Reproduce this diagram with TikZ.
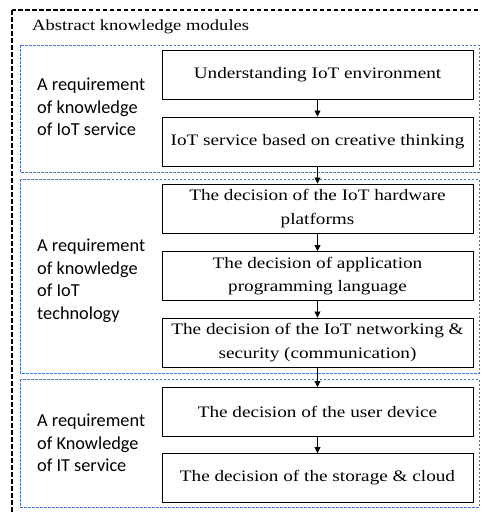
\documentclass[tikz,border=0pt]{standalone}
\usepackage{fontspec}
\setmainfont{Liberation Serif}[FakeStretch=1.2]
\newfontfamily\lblfont{Carlito}
\usepackage{xcolor}
\usetikzlibrary{arrows.meta}
\definecolor{grpblue}{RGB}{68,114,196}

\tikzset{
	modbox/.style={draw,line width=0.9pt,minimum width=311pt,minimum height=49pt,
		align=center,font=\fontsize{16}{23.5}\selectfont,inner sep=2pt},
	grpbox/.style={draw=grpblue,line width=0.6pt,dash pattern=on 2.5pt off 1.5pt},
	grplbl/.style={anchor=west,align=left,font=\lblfont\fontsize{18.3}{22.5}\selectfont,inner sep=0pt},
	flow/.style={-{Triangle[length=6pt,width=6pt]},line width=0.8pt}
}

\begin{document}
\begin{tikzpicture}[x=1pt,y=-1pt]
	\clip (0,0) rectangle (480,512);
	\draw[line width=1.4pt,dash pattern=on 4.5pt off 2.5pt] (12,10) rectangle (495,530);
	\node[anchor=west,inner sep=0pt,font=\fontsize{15.5}{18}\selectfont] (title) at (32,27) {Abstract knowledge modules};
	%
	\draw[grpbox] (20,45) rectangle (479,172);
	\draw[grpbox] (20,179) rectangle (479,373);
	\draw[grpbox] (20,379) rectangle (479,507);
	%
	\node[grplbl] (lblsvc) at (37,107) {A requirement\\of knowledge\\of IoT service};
	\node[grplbl] (lbltech) at (37,281) {A requirement\\of knowledge\\of IoT\\technology};
	\node[grplbl] (lblit) at (37,443) {A requirement\\of Knowledge\\of IT service};
	%
	\node[modbox] (env) at (317.5,74.5) {Understanding IoT environment};
	\node[modbox] (svc) at (317.5,141.5) {IoT service based on creative thinking};
	\node[modbox] (hw) at (317.5,208.5) {The decision of the IoT hardware\\platforms};
	\node[modbox] (lang) at (317.5,276) {The decision of application\\programming language};
	\node[modbox] (net) at (317.5,342.5) {The decision of the IoT networking \&\\security (communication)};
	\node[modbox] (dev) at (317.5,412) {The decision of the user device};
	\node[modbox] (cloud) at (317.5,478) {The decision of the storage \& cloud};
	%
	\path[flow]
	(env) edge (svc)
	(svc) edge (hw)
	(hw) edge (lang)
	(lang) edge (net)
	(net) edge (dev)
	(dev) edge (cloud);
\end{tikzpicture}
\end{document}
